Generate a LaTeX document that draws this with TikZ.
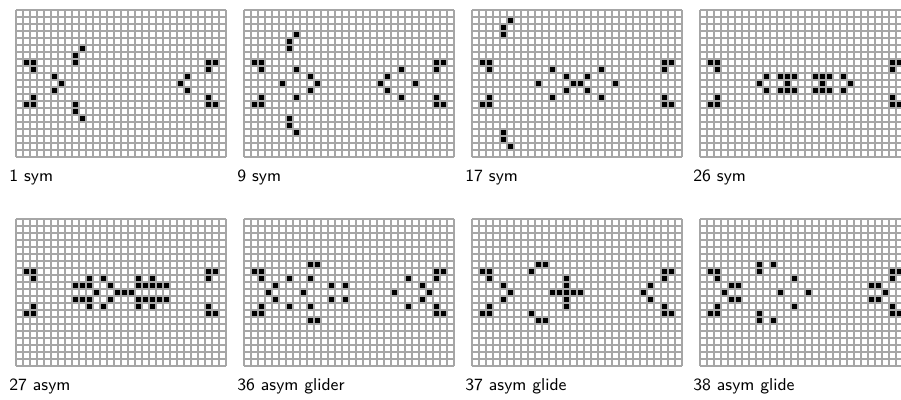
\documentclass[tikz,border=0pt]{standalone}
\usepackage{fontspec}
\usepackage{tikz}
\usetikzlibrary{positioning}

\tikzset{
  cellon/.style={fill=black},
  gridline/.style={draw=gray!70, line width=0.55pt},
  gridlabel/.style={font=\sffamily\fontsize{8.6pt}{10pt}\selectfont, inner sep=0pt, anchor=base west}
}

% the two guns at the edges
\newcommand{\edgecells}{1/7,2/7,2/8,2/12,1/13,2/13,27/7,28/7,27/8,27/12,27/13,28/13}

% one board: #1 x, #2 y (pixels), #3 live cells col/row, #4 node name, #5 label
\newcommand{\lifegrid}[5]{%
  \begin{scope}[shift={(#1,#2)}, x=3.5pt, y=-3.5pt]
    \edef\celllist{\edgecells,#3}
    \foreach \c/\r in \celllist
      \fill[cellon] (\c,\r) rectangle +(1,1);
    \foreach \i in {0,...,30}
      \draw[gridline] (\i,0) -- (\i,21);
    \foreach \j in {0,...,21}
      \draw[gridline] (0,\j) -- (30,\j);
    \node[gridlabel] (#4) at (-1,24.5) {#5};
  \end{scope}}

\begin{document}
\begin{tikzpicture}[x=0.5pt, y=-0.5pt]
  \useasboundingbox (0,0) rectangle (901,400);
  \clip (0,0) rectangle (901,400);

  % Top row
  \lifegrid{16}{10}{5/9,6/10,5/11,9/5,8/6,8/7,8/13,8/14,9/15,24/9,23/10,24/11}{sym1}{1 sym}
  \lifegrid{244}{10}{7/3,6/4,6/5,6/15,6/16,7/17,7/8,5/10,9/9,10/10,9/11,7/12,22/8,20/9,19/10,24/10,20/11,22/12}{sym9}{9 sym}
  \lifegrid{472}{10}{5/1,4/2,4/3,4/17,4/18,5/19,11/8,18/8,13/9,16/9,9/10,14/10,15/10,20/10,13/11,16/11,11/12,18/12}{sym17}{17 sym}
  \lifegrid{700}{10}{9/9,11/9,12/9,13/9,16/9,17/9,18/9,20/9,8/10,12/10,17/10,21/10,9/11,11/11,12/11,13/11,16/11,17/11,18/11,20/11}{sym26}{26 sym}

  % Bottom row
  \lifegrid{16}{219}{10/8,12/8,17/8,19/8,8/9,9/9,10/9,13/9,17/9,18/9,19/9,20/9,21/9,11/10,14/10,15/10,16/10,8/11,9/11,10/11,13/11,17/11,18/11,19/11,20/11,21/11,10/12,12/12,17/12,19/12}{asym27}{27 asym}
  \lifegrid{244}{219}{9/6,10/6,6/8,9/8,4/9,12/9,14/9,3/10,8/10,4/11,12/11,14/11,6/12,9/12,9/14,10/14,23/8,25/9,21/10,26/10,25/11,23/12}{asym36}{36 asym glider}
  \lifegrid{472}{219}{9/6,10/6,8/7,13/8,4/9,13/9,25/9,5/10,11/10,12/10,13/10,14/10,15/10,24/10,4/11,13/11,25/11,13/12,8/13,9/14,10/14}{asym37}{37 asym glide}
  \lifegrid{700}{219}{8/6,10/6,8/7,13/8,4/9,5/9,24/9,25/9,3/10,11/10,15/10,26/10,4/11,5/11,24/11,25/11,13/12,8/13,8/14,10/14}{asym38}{38 asym glide}
\end{tikzpicture}
\end{document}
